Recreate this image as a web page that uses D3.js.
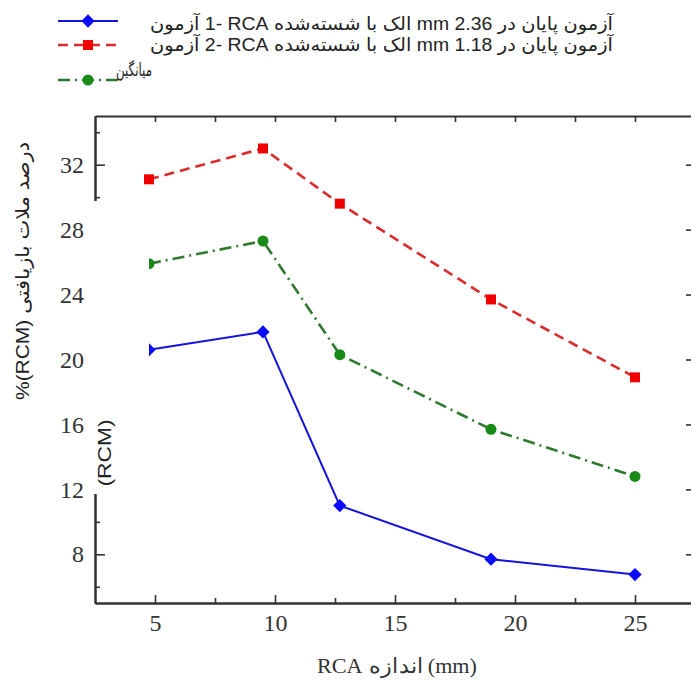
<!DOCTYPE html>
<html>
<head>
<meta charset="utf-8">
<script src="https://cdn.jsdelivr.net/npm/d3@7"></script>
<style>
  body { margin: 0; background: #fff; }
  svg { display: block; }
</style>
</head>
<body>
<script>
// data
var sizes = [4.75, 9.5, 12.7, 19, 25];
var test1 = [20.6, 21.7, 11.0, 7.7, 6.75];
var test2 = [31.1, 33.0, 29.6, 23.7, 18.9];
var average = [25.9, 27.3, 20.3, 15.7, 12.8];

var xTicks = [5, 10, 15, 20, 25];
var yTicks = [8, 12, 16, 20, 24, 28, 32];

// legend texts, words in the order they appear left to right
var legendWords = [
    ["آزمون", "1-", "RCA", "شسته‌شده", "با", "الک", "mm", "2.36", "در", "پایان", "آزمون"],
    ["آزمون", "2-", "RCA", "شسته‌شده", "با", "الک", "mm", "1.18", "در", "پایان", "آزمون"],
    ["میانگین"]
];
var xTitleWords = ["RCA", "اندازه", "(mm)"];
var yTitleWords = ["%(RCM)", "بازیافتی", "ملات", "درصد"];
var innerLabel = "(RCM)";

var w = 691;
var h = 681;

var svg = d3.select("body").append("svg")
    .attr("width", w)
    .attr("height", h);

var serif = "'Liberation Serif', 'Times New Roman', 'DejaVu Serif', serif";
var sans = "'Liberation Sans', Arial, 'DejaVu Sans', sans-serif";

//lay words out one by one, left to right, then stretch the group to a given width
function wordRow(parent, words, family, size, color, length) {
    var g = parent.append("g");
    var inner = g.append("g");
    var cx = 0;
    var gap = size * 0.28;
    words.forEach(function(word) {
        var t = inner.append("text")
            .attr("x", cx).attr("y", 0)
            .attr("direction", "ltr")
            .style("font-family", family)
            .style("font-size", size + "px")
            .attr("fill", color)
            .text(word);
        cx += t.node().getComputedTextLength() + gap;
    });
    var total = cx - gap;
    inner.attr("transform", "scale(" + (length / total) + ",1)");
    return g;
}

//Scales
var x = d3.scaleLinear().domain([2.5, 27.5]).range([95, 695]);
var y = d3.scaleLinear().domain([5, 35]).range([603, 116]);

var axisColor = "#333";

function styleAxis(g) {
    g.selectAll("path").attr("stroke", axisColor).attr("stroke-width", 2);
    g.selectAll("line").attr("stroke", axisColor).attr("stroke-width", 1.6);
    g.selectAll("text").attr("fill", "#333").style("font-family", serif).style("font-size", "24px");
}

var minorY = d3.range(6, 35, 2).filter(function(v) { return yTicks.indexOf(v) < 0; });
var minorX = d3.range(7.5, 27.5, 5);

//Bottom axis
svg.append("g")
    .attr("transform", "translate(0," + y(5) + ")")
    .call(d3.axisBottom(x).tickValues(xTicks).tickFormat(d3.format("d"))
        .tickSizeInner(-8).tickSizeOuter(0).tickPadding(11))
    .call(styleAxis);
svg.append("g")
    .attr("transform", "translate(0," + y(5) + ")")
    .call(d3.axisBottom(x).tickValues(minorX).tickFormat("").tickSizeInner(-5).tickSizeOuter(0))
    .call(styleAxis);

//Top axis
svg.append("g")
    .attr("transform", "translate(0," + y(35) + ")")
    .call(d3.axisTop(x).tickValues(d3.range(5, 27.5, 2.5)).tickFormat("").tickSizeInner(-6).tickSizeOuter(0))
    .call(styleAxis);

//Left axis
svg.append("g")
    .attr("transform", "translate(" + x(2.5) + ",0)")
    .call(d3.axisLeft(y).tickValues(yTicks).tickFormat(d3.format("d"))
        .tickSizeInner(-10).tickSizeOuter(0).tickPadding(11))
    .call(styleAxis);
svg.append("g")
    .attr("transform", "translate(" + x(2.5) + ",0)")
    .call(d3.axisLeft(y).tickValues(minorY).tickFormat("").tickSizeInner(-5).tickSizeOuter(0))
    .call(styleAxis);

//Right axis
svg.append("g")
    .attr("transform", "translate(" + x(27.5) + ",0)")
    .call(d3.axisRight(y).tickValues(yTicks).tickFormat("").tickSizeInner(-9).tickSizeOuter(0))
    .call(styleAxis);

//Series
var series = [
    { values: test1, color: "#1414dc", fill: "#0a0aff", dash: null, width: 2, shape: "diamond" },
    { values: test2, color: "#dc2b2b", fill: "#f00000", dash: "10,6", width: 2.6, shape: "square" },
    { values: average, color: "#2f7a2f", fill: "#178a17", dash: "12,5,2,5", width: 2.6, shape: "circle" }
];

function marker(sel, shape, fill) {
    if (shape === "circle") {
        sel.append("circle").attr("r", 5.5).attr("fill", fill);
    } else if (shape === "square") {
        sel.append("path").attr("d", d3.symbol(d3.symbolSquare, 100)()).attr("fill", fill);
    } else {
        sel.append("path").attr("d", d3.symbol(d3.symbolSquare, 88)())
            .attr("transform", "rotate(45)").attr("fill", fill);
    }
}

var line = d3.line()
    .x(function(d) { return x(d[0]); })
    .y(function(d) { return y(d[1]); });

series.forEach(function(s) {
    var pts = sizes.map(function(v, i) { return [v, s.values[i]]; });
    svg.append("path")
        .attr("d", line(pts))
        .attr("fill", "none")
        .attr("stroke", s.color)
        .attr("stroke-width", s.width)
        .attr("stroke-dasharray", s.dash);
    svg.selectAll(null)
        .data(pts)
        .enter()
        .append("g")
        .attr("transform", function(d) { return "translate(" + x(d[0]) + "," + y(d[1]) + ")"; })
        .each(function() { marker(d3.select(this), s.shape, s.fill); });
});

//white patch over part of the left side, as in the figure
svg.append("rect")
    .attr("x", 87).attr("y", 201)
    .attr("width", x(4.75) - 87).attr("height", 293)
    .attr("fill", "#fff");

svg.append("text")
    .attr("transform", "translate(111,453) rotate(-90)")
    .style("font-family", sans)
    .style("font-size", "19px")
    .style("text-anchor", "middle")
    .attr("fill", "#222")
    .attr("textLength", 67)
    .attr("lengthAdjust", "spacingAndGlyphs")
    .text(innerLabel);

//Axis titles
wordRow(svg, xTitleWords, serif, 21, "#333", 160)
    .attr("transform", "translate(317,673)");

wordRow(svg, yTitleWords, sans, 19, "#222", 258)
    .attr("transform", "translate(29,400) rotate(-90)");

//Legend
var legendY = [21, 45, 80];
var legendTextY = [30, 51, 76];
var legendLen = [463, 463, 36];
var legendX = [150, 150, 116];

series.forEach(function(s, i) {
    svg.append("line")
        .attr("x1", 58).attr("x2", 118)
        .attr("y1", legendY[i]).attr("y2", legendY[i])
        .attr("stroke", s.color)
        .attr("stroke-width", s.width)
        .attr("stroke-dasharray", s.dash);
    marker(svg.append("g").attr("transform", "translate(88," + legendY[i] + ")"), s.shape, s.fill);
    wordRow(svg, legendWords[i], sans, 18, "#222", legendLen[i])
        .attr("transform", "translate(" + legendX[i] + "," + legendTextY[i] + ")");
});
</script>
</body>
</html>
